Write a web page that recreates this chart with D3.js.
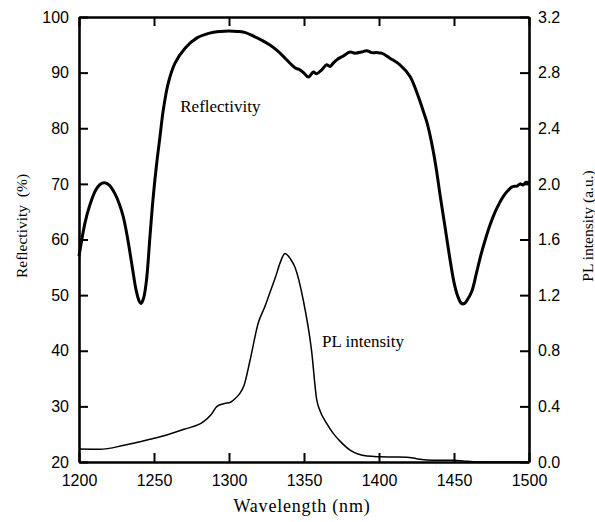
<!DOCTYPE html>
<html lang="en">
<head>
    <meta charset="UTF-8">
    <title>Reflectivity and PL intensity</title>
    <script src="https://d3js.org/d3.v7.min.js"></script>
    <style>
        body {
            margin: 0;
            background: #fff;
        }
        .axis text {
            font-family: "Liberation Sans", Arial, sans-serif;
            font-size: 16px;
            fill: #000;
        }
        .axis line {
            stroke: #000;
            stroke-width: 2;
        }
        .axis path {
            stroke: #000;
            stroke-width: 2.6;
        }
        .label {
            font-family: "Liberation Serif", "Times New Roman", serif;
            fill: #000;
        }
    </style>
</head>
<body>
    <svg width="595" height="522"></svg>
    <script>
        // Reflectivity curve (wavelength nm, %)
        const reflWavelength = [
            1200, 1204, 1207, 1211, 1214, 1217, 1220, 1224, 1227, 1229.6, 1232, 1234, 1236, 1238, 1240, 1241.3,
            1243, 1245, 1247.3, 1249.5, 1251.8, 1254, 1256.2, 1259.5, 1264, 1270.7, 1278.4, 1287, 1294, 1300,
            1306, 1311, 1316, 1322, 1327, 1332, 1337, 1341, 1344.5, 1347.3, 1350, 1352.9, 1356.2, 1358.4, 1361.8,
            1365.1, 1367.3, 1369.5, 1371.8, 1376.2, 1380.7, 1384, 1388.4, 1391.8, 1395.1, 1398.5, 1401.8,
            1407.3, 1414, 1420.7, 1426.2, 1429, 1432, 1435, 1438, 1441, 1444, 1447, 1450, 1452.5,
            1455, 1457, 1459, 1462, 1465, 1468, 1471, 1474, 1477, 1480, 1483, 1486, 1489, 1492, 1494, 1496,
            1498, 1500
        ];
        const reflValues = [
            57, 63, 66, 68.8, 69.9, 70.2, 69.8, 68.2, 66.3, 64.0, 60.8, 57.6, 54.2, 51, 49, 48.5,
            49.4, 52.7, 60.5, 67.7, 73.7, 78.5, 83.3, 88.1, 91.7, 94.4, 96.2, 97.1, 97.4, 97.5,
            97.4, 97.2, 96.6, 95.8, 95, 94, 92.7, 91.6, 90.8, 90.5, 89.9, 89.2, 90.1, 89.8, 90.5,
            91.4, 91.1, 91.7, 92.3, 93.0, 93.7, 93.5, 93.7, 93.95, 93.6, 93.6, 93.5,
            92.6, 91.4, 89.3, 85.7, 83.5, 81, 77.5, 73, 67.5, 62.3, 57, 52.3, 49.8,
            48.5, 48.5, 49.2, 50.8, 54, 57.3, 60.1, 62.6, 64.7, 66.4, 67.8, 68.8, 69.5, 69.6, 70, 69.8,
            70.3, 70.2
        ];

        // PL intensity curve (wavelength nm, a.u.)
        const plWavelength = [
            1200, 1214, 1230, 1247, 1260, 1270, 1283, 1288, 1292, 1297, 1301, 1304, 1307, 1310, 1314,
            1319.5, 1324, 1327, 1331, 1334, 1337.3, 1341, 1344, 1349.5, 1355, 1358.5, 1361, 1365, 1369.5,
            1374, 1380.7, 1386, 1392, 1400, 1410, 1418.5, 1425, 1432, 1440, 1449, 1456, 1463, 1475, 1490, 1500
        ];
        const plValues = [
            0.093, 0.091, 0.12, 0.163, 0.2, 0.235, 0.29, 0.34, 0.40, 0.42, 0.43, 0.455, 0.49, 0.55, 0.73,
            1.0, 1.12, 1.21, 1.33, 1.43, 1.50, 1.46, 1.40, 1.165, 0.805, 0.446, 0.36, 0.28, 0.206,
            0.15, 0.086, 0.058, 0.043, 0.038, 0.036, 0.034, 0.024, 0.014, 0.012, 0.012, 0.008, 0.002, 0, 0, 0
        ];

        const xTicks = [1200, 1250, 1300, 1350, 1400, 1450, 1500];
        const leftTicks = [20, 30, 40, 50, 60, 70, 80, 90, 100];
        const rightTicks = [0, 0.4, 0.8, 1.2, 1.6, 2.0, 2.4, 2.8, 3.2];

        const margin = { top: 17, right: 66, bottom: 60, left: 79 };
        const width = 595 - margin.left - margin.right;
        const height = 522 - margin.top - margin.bottom;

        const svg = d3.select("svg")
            .append("g")
            .attr("transform", `translate(${margin.left},${margin.top})`);

        const x = d3.scaleLinear().domain([1200, 1500]).range([0, width]);
        const yL = d3.scaleLinear().domain([20, 100]).range([height, 0]);
        const yR = d3.scaleLinear().domain([0, 3.2]).range([height, 0]);

        // curves
        const reflData = reflWavelength.map((w, i) => [w, reflValues[i]]);
        const plData = plWavelength.map((w, i) => [w, plValues[i]]);

        svg.append("path")
            .datum(plData)
            .attr("fill", "none")
            .attr("stroke", "#000")
            .attr("stroke-width", 1.5)
            .attr("d", d3.line().x(d => x(d[0])).y(d => yR(d[1])).curve(d3.curveMonotoneX));

        svg.append("path")
            .datum(reflData)
            .attr("fill", "none")
            .attr("stroke", "#000")
            .attr("stroke-width", 3)
            .attr("stroke-linejoin", "round")
            .attr("d", d3.line().x(d => x(d[0])).y(d => yL(d[1])).curve(d3.curveCatmullRom));

        // axes (ticks point inward)
        svg.append("g")
            .attr("class", "axis")
            .attr("transform", `translate(0,${height})`)
            .call(d3.axisBottom(x).tickValues(xTicks).tickSizeInner(-9).tickSizeOuter(0).tickPadding(13).tickFormat(d3.format("d")));

        const topAxis = svg.append("g")
            .attr("class", "axis")
            .call(d3.axisTop(x).tickValues(xTicks).tickSizeInner(-9).tickSizeOuter(0).tickFormat(""));
        topAxis.select("path").attr("stroke-width", 1.5);

        svg.append("g")
            .attr("class", "axis")
            .call(d3.axisLeft(yL).tickValues(leftTicks).tickSizeInner(-9).tickSizeOuter(0).tickPadding(10).tickFormat(d3.format("d")));

        svg.append("g")
            .attr("class", "axis")
            .attr("transform", `translate(${width},0)`)
            .call(d3.axisRight(yR).tickValues(rightTicks).tickSizeInner(-9).tickSizeOuter(0).tickPadding(9).tickFormat(d3.format(".1f")));

        // axis titles
        svg.append("text")
            .attr("class", "label")
            .attr("x", width / 2 - 2)
            .attr("y", height + 50)
            .attr("text-anchor", "middle")
            .style("font-size", "18px")
            .style("letter-spacing", "0.8px")
            .text("Wavelength (nm)");

        svg.append("text")
            .attr("class", "label")
            .attr("transform", `translate(${-52},${209}) rotate(-90)`)
            .attr("text-anchor", "middle")
            .style("font-size", "15.5px")
            .style("white-space", "pre")
            .text("Reflectivity  (%)");

        svg.append("text")
            .attr("class", "label")
            .attr("transform", `translate(${width + 64},${209}) rotate(-90)`)
            .attr("text-anchor", "middle")
            .style("font-size", "15.5px")
            .text("PL intensity (a.u.)");

        // in-plot annotations
        svg.append("text")
            .attr("class", "label")
            .attr("x", x(1267.5))
            .attr("y", yL(82.9))
            .style("font-size", "17px")
            .text("Reflectivity");

        svg.append("text")
            .attr("class", "label")
            .attr("x", x(1362))
            .attr("y", yR(0.83))
            .style("font-size", "17px")
            .text("PL intensity");
    </script>
</body>
</html>
